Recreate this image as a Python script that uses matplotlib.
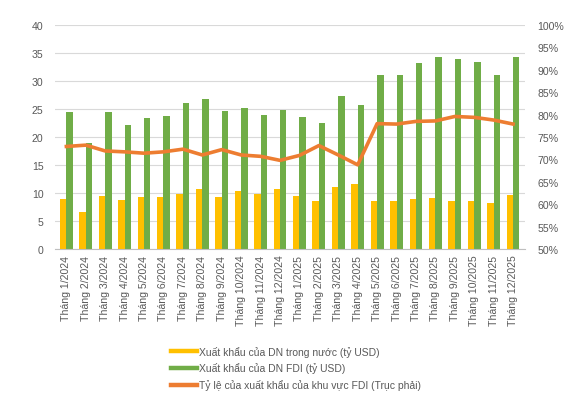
import numpy as np
import matplotlib
matplotlib.use("Agg")
import matplotlib.pyplot as plt
from matplotlib.ticker import FuncFormatter
from matplotlib.lines import Line2D

# data
months = ["Tháng 1/2024", "Tháng 2/2024", "Tháng 3/2024", "Tháng 4/2024", "Tháng 5/2024",
          "Tháng 6/2024", "Tháng 7/2024", "Tháng 8/2024", "Tháng 9/2024", "Tháng 10/2024",
          "Tháng 11/2024", "Tháng 12/2024", "Tháng 1/2025", "Tháng 2/2025", "Tháng 3/2025",
          "Tháng 4/2025", "Tháng 5/2025", "Tháng 6/2025", "Tháng 7/2025", "Tháng 8/2025",
          "Tháng 9/2025", "Tháng 10/2025", "Tháng 11/2025", "Tháng 12/2025"]
domestic = [8.9, 6.7, 9.5, 8.8, 9.3, 9.3, 9.9, 10.7, 9.3, 10.3, 9.9, 10.7,
            9.5, 8.5, 11.1, 11.7, 8.6, 8.6, 9.0, 9.2, 8.6, 8.6, 8.2, 9.7]
fdi = [24.4, 19.0, 24.4, 22.1, 23.4, 23.8, 26.1, 26.8, 24.6, 25.2, 23.9, 24.9,
       23.6, 22.6, 27.4, 25.7, 31.0, 31.0, 33.3, 34.3, 33.9, 33.4, 31.0, 34.3]
fdi_share = [72.9, 73.2, 71.9, 71.7, 71.4, 71.7, 72.3, 71.0, 72.2, 71.0, 70.7, 69.8,
             70.9, 73.1, 71.0, 68.8, 78.0, 77.9, 78.5, 78.6, 79.6, 79.4, 78.8, 77.9]
labels = ["Xuất khẩu của DN trong nước (tỷ USD)",
          "Xuất khẩu của DN FDI (tỷ USD)",
          "Tỷ lệ của xuất khẩu của khu vực FDI (Trục phải)"]

plt.rcParams["font.family"] = ["Liberation Sans", "DejaVu Sans"]
text_color = "#595959"
c_dom, c_fdi, c_share = "#FFC000", "#70AD47", "#ED7D31"

fig = plt.figure(figsize=(5.76, 4.14), dpi=100)
ax = fig.add_axes([0.095, 0.396, 0.816, 0.541])
x = np.arange(len(months))
w = 0.33

ax.bar(x - w / 2, domestic, width=w, color=c_dom, zorder=2)
ax.bar(x + w / 2, fdi, width=w, color=c_fdi, zorder=2)
ax.set_ylim(0, 40)
ax.set_yticks(range(0, 41, 5))
ax.set_xlim(-0.6, len(months) - 0.4)
ax.set_xticks(x)
ax.set_xticklabels(months, rotation=90, fontsize=7.6, color=text_color)
ax.grid(axis="y", color="#D9D9D9", linewidth=0.8, zorder=0)
for s in ["top", "right", "left"]:
    ax.spines[s].set_visible(False)
ax.spines["bottom"].set_color("#BFBFBF")
ax.tick_params(axis="both", length=0, colors=text_color, labelsize=7.6)
ax.tick_params(axis="y", pad=8)
ax.tick_params(axis="x", pad=4)

ax2 = ax.twinx()
ax2.plot(x, fdi_share, color=c_share, linewidth=2.6, zorder=3)
ax2.set_ylim(50, 100)
ax2.set_yticks(range(50, 101, 5))
ax2.yaxis.set_major_formatter(FuncFormatter(lambda v, p: f"{v:.0f}%"))
for s in ["top", "right", "left", "bottom"]:
    ax2.spines[s].set_visible(False)
ax2.tick_params(axis="y", length=0, colors=text_color, labelsize=7.6, pad=9)

handles = [Line2D([], [], color=c, linewidth=3.2) for c in (c_dom, c_fdi, c_share)]
fig.legend(handles, labels, loc="upper left", bbox_to_anchor=(0.288, 0.175),
           frameon=False, fontsize=7.5, labelcolor=text_color, handlelength=2.5,
           handletextpad=0.15, labelspacing=0.55, borderpad=0)

fig.savefig("out.png", dpi=100)
